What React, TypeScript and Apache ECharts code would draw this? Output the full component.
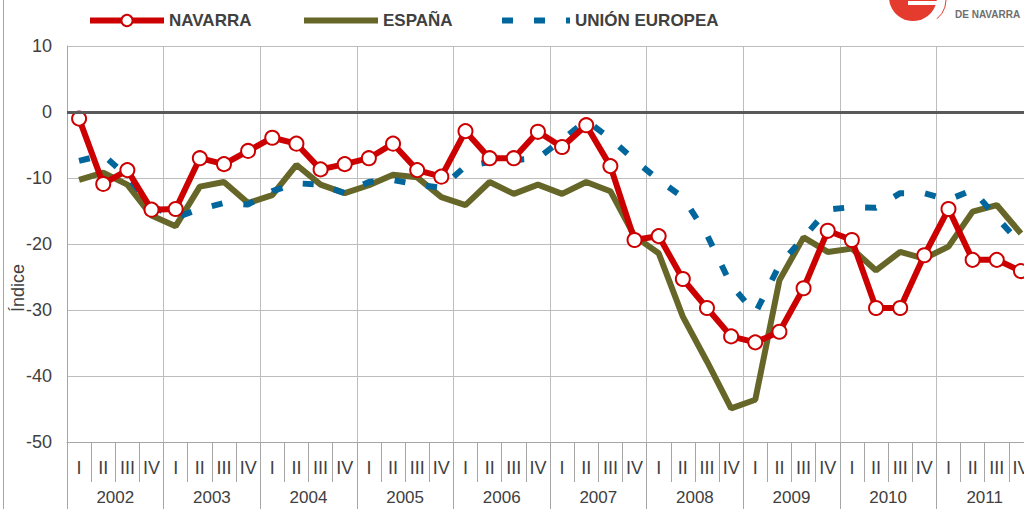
import React, { useEffect, useRef } from "react";
import * as echarts from "echarts";

const quarters = ["I", "II", "III", "IV"];
const years = ["2002", "2003", "2004", "2005", "2006", "2007", "2008", "2009", "2010", "2011"];
const quarterLabels: string[] = years.flatMap(() => quarters);

const navarra = [
  -1, -10.9, -8.8, -14.8,
  -14.7, -7, -7.9, -5.9,
  -3.9, -4.8, -8.7, -7.9,
  -7, -4.8, -8.8, -9.8,
  -2.9, -7, -7, -3,
  -5.3, -2, -8.2, -19.4,
  -18.8, -25.3, -29.7, -34,
  -34.9, -33.3, -26.7, -18,
  -19.4, -29.7, -29.7, -21.7,
  -14.7, -22.4, -22.4, -24.1,
];
const espana = [
  -10.3, -9.2, -11, -15.7,
  -17.3, -11.3, -10.6, -13.8,
  -12.6, -8, -11, -12.3,
  -11.1, -9.5, -9.9, -12.9,
  -14.1, -10.6, -12.4, -11,
  -12.4, -10.6, -12, -18.8,
  -21.4, -31, -37.8, -44.9,
  -43.6, -25.5, -19, -21.2,
  -20.7, -24, -21.2, -22.2,
  -20.4, -15.1, -14.1, -18.4,
];
const ue = [
  -7.4, -6.5, -9.8, -14.2,
  -16, -14.7, -13.8, -14,
  -12, -10.8, -11, -12.3,
  -10.6, -10.3, -11, -11.5,
  -8.2, -7.6, -7.3, -7,
  -4.2, -1.3, -4, -7.3,
  -10.3, -12.9, -18.6, -26.2,
  -30.5, -23.2, -19, -14.8,
  -14.4, -14.5, -12.3, -12.3,
  -13.3, -11.8, -16, -20,
];

const RED = "#cc0000";
const OLIVE = "#666628";
const BLUE = "#00669c";
const TXT = "#404040";
const FONT = "'Liberation Sans', Arial, sans-serif";

export default function App() {
  const ref = useRef<HTMLDivElement>(null);
  useEffect(() => {
    if (!ref.current) return;
    const chart = echarts.init(ref.current, undefined, { renderer: "svg" });
    const legendBase = {
      top: 12,
      padding: 0,
      itemWidth: 74,
      itemHeight: 14,
      itemGap: 0,
      lineStyle: { width: 6 },
      textStyle: { color: TXT, fontSize: 17, fontWeight: "bold", fontFamily: FONT },
    };
    chart.setOption({
      animation: false,
      backgroundColor: "#ffffff",
      legend: [
        { ...legendBase, left: 87, data: ["NAVARRA"] },
        { ...legendBase, left: 301, itemStyle: { opacity: 0 }, data: ["ESPAÑA"] },
        { ...legendBase, left: 499, itemWidth: 68, itemStyle: { opacity: 0 }, data: ["UNIÓN EUROPEA"] },
      ],
      grid: { left: 67, top: 46, width: 966, height: 396, containLabel: false, outerBoundsMode: "none" },
      xAxis: [
        {
          type: "category",
          data: quarterLabels,
          position: "bottom",
          axisLine: { show: true, onZero: false, lineStyle: { color: "#a6a6a6", width: 1 } },
          axisTick: { show: true, interval: 0, length: 40, lineStyle: { color: "#a6a6a6" } },
          axisLabel: { interval: 0, margin: 17, fontSize: 18, color: TXT, fontFamily: "'Liberation Sans Narrow', " + FONT },
          splitLine: { show: false },
        },
        {
          type: "category",
          data: years,
          position: "bottom",
          axisLine: { show: false, onZero: false },
          axisTick: { show: true, interval: 0, length: 70, lineStyle: { color: "#a6a6a6" } },
          axisLabel: { interval: 0, margin: 47, fontSize: 17, color: TXT, fontFamily: FONT },
          splitLine: { show: true, interval: 0, lineStyle: { color: "#bdbdbd", width: 1 } },
        },
      ],
      yAxis: {
        type: "value",
        min: -50,
        max: 10,
        interval: 10,
        axisLine: { show: true, lineStyle: { color: "#a6a6a6" } },
        axisTick: { show: false },
        axisLabel: { margin: 15, fontSize: 18, color: TXT, fontFamily: FONT },
        splitLine: { show: true, lineStyle: { color: "#bdbdbd", width: 1 } },
      },
      graphic: [
        { type: "line", shape: { x1: 3.5, y1: 0, x2: 3.5, y2: 509 }, style: { stroke: "#a6a6a6", lineWidth: 1 } },
        {
          type: "text",
          x: 18,
          y: 288,
          rotation: Math.PI / 2,
          style: { text: "Índice", fontSize: 18, fill: TXT, fontFamily: FONT, textAlign: "center", textVerticalAlign: "middle" },
        },
        { type: "circle", shape: { cx: 913, cy: -3, r: 24 }, style: { fill: "#e53a2e" } },
        { type: "rect", shape: { x: 908, y: 1, width: 30, height: 4 }, style: { fill: "#ffffff" } },
        { type: "arc", shape: { cx: 922, cy: 0, r: 24, startAngle: -0.3, endAngle: 0.9 }, style: { stroke: "#e53a2e", lineWidth: 1, fill: "none" } },
        {
          type: "text",
          x: 955,
          y: 14,
          style: { text: "DE NAVARRA", fontSize: 10, fontWeight: "bold", fill: "#6e6e6e", fontFamily: FONT, textVerticalAlign: "middle" },
        },
      ],
      series: [
        {
          name: "NAVARRA",
          type: "line",
          data: navarra,
          z: 4,
          symbol: "circle",
          symbolSize: 14,
          showSymbol: true,
          lineStyle: { color: RED, width: 6 },
          itemStyle: { color: "#ffffff", borderColor: RED, borderWidth: 2 },
        },
        {
          name: "ESPAÑA",
          type: "line",
          data: espana,
          z: 2,
          symbol: "none",
          lineStyle: { color: OLIVE, width: 6 },
          itemStyle: { color: OLIVE },
          markLine: {
            silent: true,
            symbol: "none",
            label: { show: false },
            lineStyle: { color: "#595959", width: 3, type: "solid" },
            data: [{ yAxis: 0 }],
          },
        },
        {
          name: "UNIÓN EUROPEA",
          type: "line",
          data: ue,
          z: 3,
          symbol: "none",
          lineStyle: { color: BLUE, width: 6, type: [11, 21], cap: "butt" },
          itemStyle: { color: BLUE },
        },
      ],
    });
    return () => chart.dispose();
  }, []);
  return (
    <div
      ref={ref}
      style={{ position: "fixed", left: 0, top: 0, width: 1024, height: 509, background: "#fff" }}
    />
  );
}
